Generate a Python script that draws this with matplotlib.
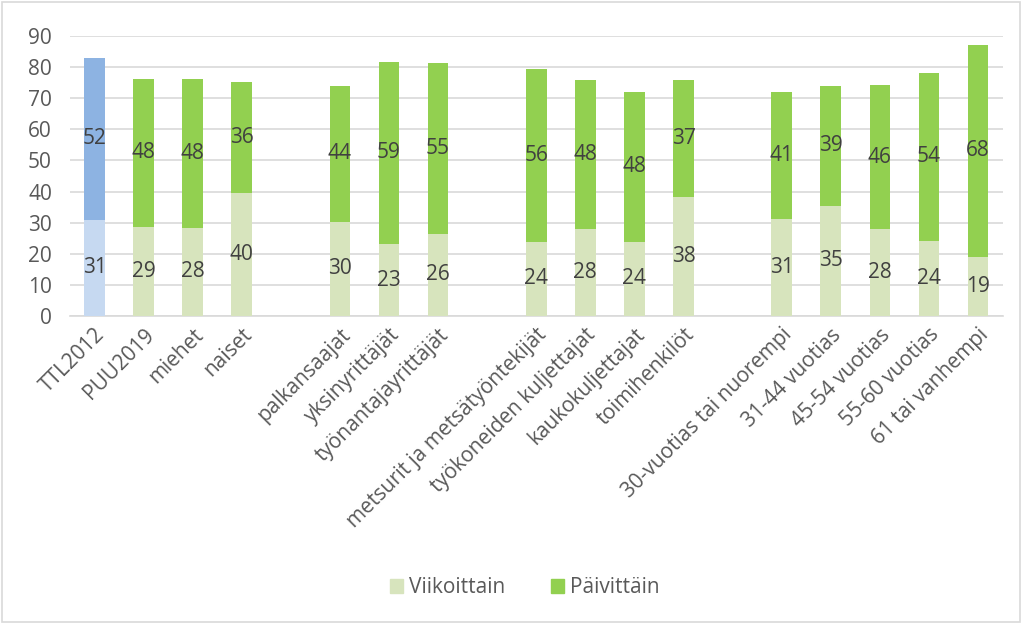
import numpy as np
import matplotlib.pyplot as plt
from matplotlib.patches import Rectangle

plt.rcParams['font.family'] = ['Open Sans', 'DejaVu Sans']

# categories, '' marks the empty slots between groups
categories = ['TTL2012', 'PUU2019', 'miehet', 'naiset', '',
              'palkansaajat', 'yksinyrittäjät', 'työnantajayrittäjät', '',
              'metsurit ja metsätyöntekijät', 'työkoneiden kuljettajat',
              'kaukokuljettajat', 'toimihenkilöt', '',
              '30-vuotias tai nuorempi', '31-44 vuotias', '45-54 vuotias',
              '55-60 vuotias', '61 tai vanhempi']
weekly = [31.0, 28.6, 28.3, 39.6, np.nan,
          30.3, 23.1, 26.4, np.nan,
          23.8, 27.9, 23.8, 38.4, np.nan,
          31.1, 35.4, 27.9, 24.2, 19.1]
daily = [52.0, 47.6, 47.9, 35.7, np.nan,
         43.6, 58.6, 55.0, np.nan,
         55.6, 48.1, 48.2, 37.3, np.nan,
         41.0, 38.6, 46.2, 53.9, 68.0]

light_green = '#D7E4BD'
green = '#92D050'
light_blue = '#C6D9F1'
blue = '#8DB3E2'
text_c = '#595959'
label_c = '#404040'

X = np.arange(len(categories))
w = np.array(weekly)
d = np.array(daily)

fig = plt.figure(figsize=(10.23, 6.24), dpi=100)
ax = fig.add_axes([0.0684, 0.4936, 0.9116, 0.4487])

c_bottom = [light_blue] + [light_green] * (len(X) - 1)
c_top = [blue] + [green] * (len(X) - 1)
ax.bar(X, w, width=0.42, color=c_bottom, zorder=3)
ax.bar(X, d, width=0.42, bottom=w, color=c_top, zorder=3)

for i in X:
    if np.isnan(w[i]):
        continue
    ax.text(i, w[i] / 2, f'{w[i]:.0f}', ha='center', va='center',
            fontsize=15, color=label_c, zorder=4)
    ax.text(i, w[i] + d[i] / 2, f'{d[i]:.0f}', ha='center', va='center',
            fontsize=15, color=label_c, zorder=4)

ax.set_ylim(0, 90)
ax.set_xlim(-0.5, len(X) - 0.5)
ax.set_yticks(range(0, 91, 10))
ax.set_xticks(X)
ax.set_xticklabels(categories, rotation=45, ha='right', rotation_mode='anchor')
ax.tick_params(axis='both', length=0, labelsize=15, labelcolor=text_c)
ax.tick_params(axis='y', pad=13)
ax.tick_params(axis='x', pad=6)
ax.grid(axis='y', color='#D9D9D9', linewidth=1.2, zorder=0)
for s in ['top', 'right', 'left']:
    ax.spines[s].set_visible(False)
ax.spines['bottom'].set_color('#D9D9D9')
ax.spines['bottom'].set_linewidth(1.2)

handles = [Rectangle((0, 0), 1, 1, color=light_green),
           Rectangle((0, 0), 1, 1, color=green)]
leg = fig.legend(handles, ['Viikoittain', 'Päivittäin'], loc='center',
                 bbox_to_anchor=(0.513, 0.058), ncol=2, frameon=False,
                 fontsize=15, handlelength=0.6, handleheight=0.6,
                 columnspacing=2.2, handletextpad=0.3)
for t in leg.get_texts():
    t.set_color(text_c)

fig.patches.append(Rectangle((0.002, 0.003), 0.995, 0.993, transform=fig.transFigure,
                             fill=False, edgecolor='#D9D9D9', linewidth=1.2))

fig.savefig('out.png', dpi=100)
